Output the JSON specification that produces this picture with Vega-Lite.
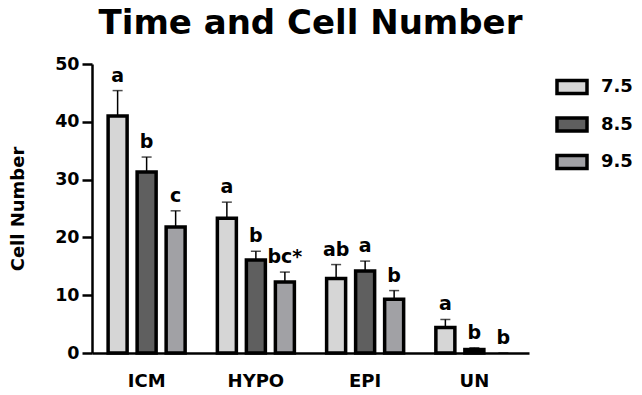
{
  "$schema": "https://vega.github.io/schema/vega-lite/v6.json",
  "autosize": "none",
  "width": 437,
  "height": 289,
  "padding": {"left": 92, "top": 64, "right": 113, "bottom": 42},
  "background": "white",
  "config": {
    "font": "DejaVu Sans",
    "view": {"stroke": null}
  },
  "title": {
    "text": "Time and Cell Number",
    "fontSize": 34,
    "fontWeight": "bold",
    "color": "black",
    "anchor": "middle",
    "offset": 14
  },
  "data": {
    "values": [
      {"group": "ICM", "time": "7.5", "value": 41.0, "err": 45.4, "letter": "a"},
      {"group": "ICM", "time": "8.5", "value": 31.3, "err": 33.9, "letter": "b"},
      {"group": "ICM", "time": "9.5", "value": 21.8, "err": 24.6, "letter": "c"},
      {"group": "HYPO", "time": "7.5", "value": 23.3, "err": 26.1, "letter": "a"},
      {"group": "HYPO", "time": "8.5", "value": 16.1, "err": 17.6, "letter": "b"},
      {"group": "HYPO", "time": "9.5", "value": 12.3, "err": 14.0, "letter": "bc*"},
      {"group": "EPI", "time": "7.5", "value": 12.9, "err": 15.3, "letter": "ab"},
      {"group": "EPI", "time": "8.5", "value": 14.2, "err": 15.9, "letter": "a"},
      {"group": "EPI", "time": "9.5", "value": 9.3, "err": 10.8, "letter": "b"},
      {"group": "UN", "time": "7.5", "value": 4.4, "err": 5.8, "letter": "a"},
      {"group": "UN", "time": "8.5", "value": 0.6, "err": 0.9, "letter": "b"},
      {"group": "UN", "time": "9.5", "value": null, "err": 0, "letter": "b"}
    ]
  },
  "encoding": {
    "x": {
      "field": "group",
      "type": "nominal",
      "sort": ["ICM", "HYPO", "EPI", "UN"],
      "scale": {"paddingInner": 0.295, "paddingOuter": 0.1475},
      "axis": {
        "title": null,
        "labelAngle": 0,
        "labelFontSize": 18,
        "labelFontWeight": "bold",
        "labelColor": "black",
        "labelPadding": 19,
        "ticks": false,
        "domainColor": "black",
        "domainWidth": 2.5,
        "grid": false
      }
    },
    "xOffset": {
      "field": "time",
      "type": "nominal",
      "scale": {"paddingInner": 0.345, "paddingOuter": 0}
    }
  },
  "layer": [
    {
      "mark": {"type": "rule", "color": "black", "strokeWidth": 1.5},
      "encoding": {
        "y": {"field": "value", "type": "quantitative"},
        "y2": {"field": "err"}
      }
    },
    {
      "mark": {"type": "tick", "color": "black", "thickness": 1.5, "size": 10},
      "encoding": {
        "y": {"field": "err", "type": "quantitative"}
      }
    },
    {
      "mark": {"type": "bar", "stroke": "black", "strokeWidth": 3.5},
      "encoding": {
        "y": {
          "field": "value",
          "type": "quantitative",
          "scale": {"domain": [0, 50], "nice": false},
          "axis": {
            "title": "Cell Number",
            "titleFontSize": 18,
            "titleFontWeight": "bold",
            "titleColor": "black",
            "titlePadding": 27,
            "values": [0, 10, 20, 30, 40, 50],
            "labelFontSize": 17.5,
            "labelFontWeight": "bold",
            "labelColor": "black",
            "labelPadding": 3,
            "tickColor": "black",
            "tickWidth": 2.5,
            "tickSize": 10,
            "domainColor": "black",
            "domainWidth": 2.5,
            "grid": false
          }
        },
        "fill": {
          "field": "time",
          "type": "nominal",
          "scale": {"domain": ["7.5", "8.5", "9.5"], "range": ["#d6d6d6", "#5f5f5f", "#a1a1a5"]},
          "legend": {
            "title": null,
            "orient": "none",
            "legendX": 463,
            "legendY": 6,
            "padding": 0,
            "symbolType": "M-1,-0.43H1V0.43H-1Z",
            "symbolSize": 900,
            "symbolStrokeColor": "black",
            "symbolStrokeWidth": 3.5,
            "symbolOpacity": 1,
            "labelFontSize": 18,
            "labelFontWeight": "bold",
            "labelColor": "black",
            "labelOffset": 12,
            "rowPadding": 6.5
          }
        }
      }
    },
    {
      "mark": {"type": "text", "fontSize": 19, "fontWeight": "bold", "color": "black", "baseline": "alphabetic", "dy": -9},
      "encoding": {
        "y": {"field": "err", "type": "quantitative"},
        "text": {"field": "letter"}
      }
    }
  ]
}
